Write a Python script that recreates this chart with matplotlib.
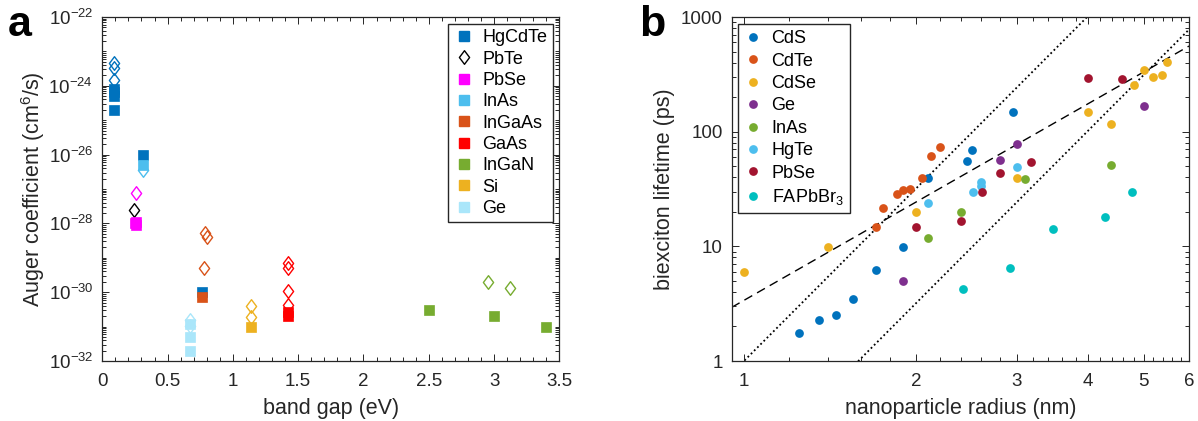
import numpy as np
import matplotlib
matplotlib.use('Agg')
import matplotlib.pyplot as plt
from matplotlib.path import Path
from matplotlib.lines import Line2D
from matplotlib.ticker import FixedLocator, LogLocator, MultipleLocator, NullFormatter, FuncFormatter

plt.rcParams['font.family'] = ['Liberation Sans', 'DejaVu Sans']
plt.rcParams['mathtext.fontset'] = 'custom'
plt.rcParams['mathtext.rm'] = 'Liberation Sans'
plt.rcParams['mathtext.it'] = 'Liberation Sans:italic'
plt.rcParams['mathtext.bf'] = 'Liberation Sans:bold'

# ---------------- panel a data (band gap eV, Auger coefficient cm^6/s) ----------------
hgcdte_sq_gap = [0.09, 0.09, 0.09, 0.09, 0.31, 0.76]
hgcdte_sq_C = [8.3e-25, 6.5e-25, 4.9e-25, 2.0e-25, 1.0e-26, 1.0e-30]
hgcdte_di_gap = [0.09, 0.09, 0.09]
hgcdte_di_C = [4.5e-24, 3.3e-24, 1.5e-24]
pbte_di_gap = [0.24]
pbte_di_C = [2.45e-28]
pbse_sq_gap = [0.25, 0.26, 0.26]
pbse_sq_C = [1.0e-28, 1.1e-28, 8.8e-29]
pbse_di_gap = [0.26]
pbse_di_C = [7.8e-28]
inas_sq_gap = [0.31]
inas_sq_C = [5.0e-27]
inas_di_gap = [0.31]
inas_di_C = [3.5e-27]
ingaas_sq_gap = [0.76]
ingaas_sq_C = [7.4e-31]
ingaas_di_gap = [0.79, 0.80, 0.78]
ingaas_di_C = [5.1e-29, 4.0e-29, 4.9e-30]
gaas_sq_gap = [1.42, 1.42]
gaas_sq_C = [2.7e-31, 2.0e-31]
gaas_di_gap = [1.42, 1.42, 1.42, 1.42]
gaas_di_C = [7.2e-30, 5.1e-30, 1.05e-30, 4.3e-31]
ingan_sq_gap = [2.5, 3.0, 3.4]
ingan_sq_C = [2.95e-31, 2.0e-31, 1.0e-31]
ingan_di_gap = [2.95, 3.12]
ingan_di_C = [2.0e-30, 1.35e-30]
si_sq_gap = [1.14]
si_sq_C = [1.0e-31]
si_di_gap = [1.14, 1.14]
si_di_C = [4.0e-31, 1.95e-31]
ge_sq_gap = [0.67, 0.67, 0.67]
ge_sq_C = [1.2e-31, 4.9e-32, 2.0e-32]
ge_di_gap = [0.67, 0.67]
ge_di_C = [1.55e-31, 1.05e-31]

materials_a = ['HgCdTe', 'PbTe', 'PbSe', 'InAs', 'InGaAs', 'GaAs', 'InGaN', 'Si', 'Ge']
colors_a = ['#0072BD', '#000000', '#FF00FF', '#4DBEEE', '#D95319', '#FF0000', '#77AC30', '#EDB120', '#AAE6FA']

# ---------------- panel b data (radius nm, biexciton lifetime ps) ----------------
cds_r = [1.25, 1.35, 1.45, 1.55, 1.70, 1.90, 2.10, 2.45, 2.50, 2.95]
cds_t = [1.74, 2.27, 2.5, 3.48, 6.27, 9.86, 39.5, 56, 68.8, 148]
cdte_r = [1.70, 1.75, 1.85, 1.90, 1.95, 2.05, 2.12, 2.20]
cdte_t = [14.8, 21.7, 28.7, 30.7, 31.8, 39.5, 61, 73.6]
cdse_r = [1.0, 1.40, 2.0, 3.0, 4.0, 4.39, 4.80, 5.0, 5.19, 5.39, 5.50]
cdse_t = [5.94, 9.86, 19.8, 39.5, 147, 117, 253, 344, 299, 315, 404]
geb_r = [1.90, 2.80, 3.0, 5.0]
geb_t = [4.96, 57, 77.6, 167]
inasb_r = [2.10, 2.40, 3.10, 4.39]
inasb_t = [11.9, 19.8, 38.7, 51.3]
hgte_r = [2.10, 2.51, 2.60, 2.60, 3.0]
hgte_t = [23.8, 29.7, 36.3, 33.4, 49.3]
pbseb_r = [2.0, 2.40, 2.61, 2.80, 3.17, 4.0, 4.59]
pbseb_t = [14.8, 16.7, 29.7, 43.4, 54, 291, 289]
fapbbr3_r = [2.42, 2.92, 3.47, 4.28, 4.77]
fapbbr3_t = [4.25, 6.44, 14.1, 18.1, 29.9]

materials_b = ['CdS', 'CdTe', 'CdSe', 'Ge', 'InAs', 'HgTe', 'PbSe', 'FAPbBr$_3$']
colors_b = ['#0072BD', '#D95319', '#EDB120', '#7E2F8E', '#77AC30', '#4DBEEE', '#A2142F', '#00BFBF']

# power-law guide lines: lifetime = coef * r^exp
dashed_coef, dashed_exp = 3.38, 2.85
dotted_coefs, dotted_exp = [1.0, 0.1], 5.0

# ---------------- figure ----------------
fig = plt.figure(figsize=(11.98, 4.21), dpi=100)
axa = fig.add_axes([0.0854, 0.1425, 0.3815, 0.8171])
axb = fig.add_axes([0.6108, 0.1425, 0.3817, 0.8171])

diamond = Path([(0, 1), (0.75, 0), (0, -1), (-0.75, 0), (0, 1)],
               [Path.MOVETO, Path.LINETO, Path.LINETO, Path.LINETO, Path.CLOSEPOLY])
axcol = '#262626'
SQ_MS = 7.2
DI_MS = 9.8

def squares(ax, x, y, c):
    ax.plot(x, y, linestyle='none', marker='s', ms=SQ_MS, mfc=c, mec=c, mew=0.5)

def diamonds(ax, x, y, c):
    ax.plot(x, y, linestyle='none', marker=diamond, ms=DI_MS, mfc='none', mec=c, mew=1.0)

ca = dict(zip(materials_a, colors_a))
squares(axa, hgcdte_sq_gap, hgcdte_sq_C, ca['HgCdTe'])
diamonds(axa, hgcdte_di_gap, hgcdte_di_C, ca['HgCdTe'])
diamonds(axa, pbte_di_gap, pbte_di_C, ca['PbTe'])
squares(axa, pbse_sq_gap, pbse_sq_C, ca['PbSe'])
diamonds(axa, pbse_di_gap, pbse_di_C, ca['PbSe'])
squares(axa, inas_sq_gap, inas_sq_C, ca['InAs'])
diamonds(axa, inas_di_gap, inas_di_C, ca['InAs'])
squares(axa, ingaas_sq_gap, ingaas_sq_C, ca['InGaAs'])
diamonds(axa, ingaas_di_gap, ingaas_di_C, ca['InGaAs'])
squares(axa, gaas_sq_gap, gaas_sq_C, ca['GaAs'])
diamonds(axa, gaas_di_gap, gaas_di_C, ca['GaAs'])
squares(axa, ingan_sq_gap, ingan_sq_C, ca['InGaN'])
diamonds(axa, ingan_di_gap, ingan_di_C, ca['InGaN'])
squares(axa, si_sq_gap, si_sq_C, ca['Si'])
diamonds(axa, si_di_gap, si_di_C, ca['Si'])
squares(axa, ge_sq_gap, ge_sq_C, ca['Ge'])
diamonds(axa, ge_di_gap, ge_di_C, ca['Ge'])

axa.set_yscale('log')
axa.set_xlim(0, 3.5)
axa.set_ylim(1e-32, 1e-22)
axa.xaxis.set_major_locator(MultipleLocator(0.5))
axa.xaxis.set_minor_locator(MultipleLocator(0.1))
axa.xaxis.set_major_formatter(FuncFormatter(lambda v, p: f'{v:g}'))
axa.yaxis.set_major_locator(FixedLocator([10.0 ** e for e in range(-32, -21, 2)]))
axa.yaxis.set_major_formatter(FuncFormatter(lambda v, p: r'$10^{%d}$' % round(np.log10(v))))
axa.yaxis.set_minor_locator(LogLocator(base=10, subs=np.arange(1, 10), numticks=100))
axa.yaxis.set_minor_formatter(NullFormatter())
axa.set_xlabel('band gap (eV)', fontsize=15.5, color=axcol, labelpad=6)
axa.set_ylabel('Auger coefficient (cm$^{6}$/s)', fontsize=15.5, color=axcol, labelpad=1)

handles_a = []
for m, c in zip(materials_a, colors_a):
    if m == 'PbTe':
        h = Line2D([], [], linestyle='none', marker=diamond, ms=DI_MS, mfc='none', mec=c, mew=1.0)
    else:
        h = Line2D([], [], linestyle='none', marker='s', ms=SQ_MS, mfc=c, mec=c)
    handles_a.append(h)
leg_a = axa.legend(handles_a, materials_a, loc='upper right', bbox_to_anchor=(0.986, 0.98),
                   borderaxespad=0, fontsize=13, frameon=True, fancybox=False,
                   edgecolor=axcol, framealpha=1, handlelength=1.1, handletextpad=0.5,
                   labelspacing=0.24, borderpad=0.3)
leg_a.get_frame().set_linewidth(1.0)

# panel b
rb = [cds_r, cdte_r, cdse_r, geb_r, inasb_r, hgte_r, pbseb_r, fapbbr3_r]
tb = [cds_t, cdte_t, cdse_t, geb_t, inasb_t, hgte_t, pbseb_t, fapbbr3_t]
xlo, xhi = 0.952, 6.0
rline = np.geomspace(xlo, xhi, 300)
axb.plot(rline, dashed_coef * rline ** dashed_exp, color='black', lw=1.0,
         linestyle=(0, (6.5, 4)), zorder=1)
for cf in dotted_coefs:
    axb.plot(rline, cf * rline ** dotted_exp, color='black', lw=1.3,
             linestyle=(0, (1, 1.5)), zorder=1)
handles_b = []
for r, t, c in zip(rb, tb, colors_b):
    h, = axb.plot(r, t, linestyle='none', marker='o', ms=6.3, mfc=c, mec='none', zorder=3)
    handles_b.append(h)

axb.set_xscale('log')
axb.set_yscale('log')
axb.set_xlim(xlo, xhi)
axb.set_ylim(1, 1000)
axb.xaxis.set_major_locator(FixedLocator([1, 2, 3, 4, 5, 6]))
axb.xaxis.set_major_formatter(FuncFormatter(lambda v, p: f'{v:g}'))
minor_x = [a + d for a in range(1, 6) for d in (0.2, 0.4, 0.6, 0.8)]
axb.xaxis.set_minor_locator(FixedLocator(minor_x))
axb.xaxis.set_minor_formatter(NullFormatter())
axb.yaxis.set_major_locator(FixedLocator([1, 10, 100, 1000]))
axb.yaxis.set_major_formatter(FuncFormatter(lambda v, p: f'{v:g}'))
axb.yaxis.set_minor_locator(LogLocator(base=10, subs=np.arange(2, 10), numticks=100))
axb.yaxis.set_minor_formatter(NullFormatter())
axb.set_xlabel('nanoparticle radius (nm)', fontsize=15.5, color=axcol, labelpad=6)
axb.set_ylabel('biexciton lifetime (ps)', fontsize=15.5, color=axcol, labelpad=4)

leg_b = axb.legend(handles_b, materials_b, loc='upper left', bbox_to_anchor=(0.014, 0.98),
                   borderaxespad=0, fontsize=13, frameon=True, fancybox=False,
                   edgecolor=axcol, framealpha=1, handlelength=0.9, handletextpad=0.6,
                   labelspacing=0.3, borderpad=0.35)
leg_b.get_frame().set_linewidth(1.0)

for ax in (axa, axb):
    ax.tick_params(which='both', direction='in', top=True, right=True, colors=axcol,
                   labelcolor=axcol, labelsize=13.5, width=0.7)
    ax.tick_params(which='major', length=5)
    ax.tick_params(which='minor', length=2.8)
    ax.tick_params(axis='x', which='both', pad=8.5)
    ax.tick_params(axis='y', which='both', pad=6.5)
    for s in ax.spines.values():
        s.set_color(axcol)
        s.set_linewidth(0.9)

fig.text(8 / 1198, 1 - 36 / 421, 'a', fontsize=31, fontweight='bold', va='baseline', ha='left')
fig.text(639 / 1198, 1 - 36 / 421, 'b', fontsize=31, fontweight='bold', va='baseline', ha='left')

fig.savefig('out.png', dpi=100)
